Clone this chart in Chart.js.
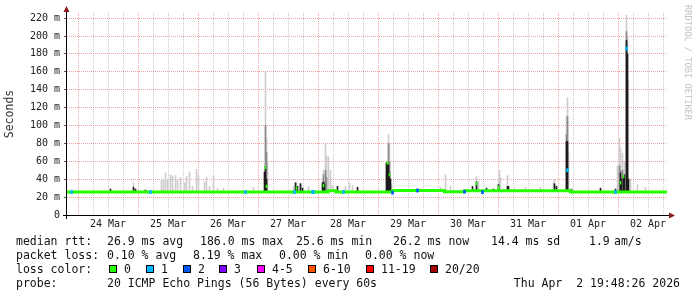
<!DOCTYPE html>
<html>
<head>
<meta charset="utf-8">
<script src="https://cdn.jsdelivr.net/npm/chart.js@4.4.1/dist/chart.umd.min.js"></script>
<style>
  html, body { margin: 0; padding: 0; background: #fff; }
  #wrap { position: relative; width: 697px; height: 297px; overflow: hidden; font-family: 'DejaVu Sans Mono', monospace; color: #111; }
  #chart { position: absolute; left: 0; top: 0; }
  .lg { position: absolute; font-size: 11.5px; line-height: 14px; white-space: pre; }
  .sw { position: absolute; top: 265px; width: 6px; height: 6px; border: 1px solid #000; }
  #wm { position: absolute; left: 683px; top: 5px; writing-mode: vertical-rl; font-size: 8.7px; line-height: 10px; color: #c4c4c4; }
</style>
</head>
<body>
<div id="wrap">
  <canvas id="chart" width="697" height="297"></canvas>

  <span class="lg" style="left:16px;top:234px">median rtt:</span>
  <span class="lg" style="left:107px;top:234px">26.9 ms avg</span>
  <span class="lg" style="left:200px;top:234px">186.0 ms max</span>
  <span class="lg" style="left:296px;top:234px">25.6 ms min</span>
  <span class="lg" style="left:393px;top:234px">26.2 ms now</span>
  <span class="lg" style="left:491px;top:234px">14.4 ms sd</span>
  <span class="lg" style="left:589px;top:234px">1.9</span>
  <span class="lg" style="left:614px;top:234px">am/s</span>

  <span class="lg" style="left:16px;top:248px">packet loss:</span>
  <span class="lg" style="left:107px;top:248px">0.10 % avg</span>
  <span class="lg" style="left:193px;top:248px">8.19 % max</span>
  <span class="lg" style="left:279px;top:248px">0.00 % min</span>
  <span class="lg" style="left:365px;top:248px">0.00 % now</span>

  <span class="lg" style="left:16px;top:262px">loss color:</span>
  <div id="swatches"></div>

  <span class="lg" style="left:16px;top:276px">probe:</span>
  <span class="lg" style="left:107px;top:276px">20 ICMP Echo Pings (56 Bytes) every 60s</span>
  <span class="lg" style="right:17px;top:276px">Thu Apr  2 19:48:26 2026</span>

  <div id="wm">RRDTOOL / TOBI OETIKER</div>
</div>
<script>
'use strict';

// ── AXES (x in hours since 23 Mar 19:48, y in ms) ──
const firstMidnight = 4.4;
const dayLabels = ['24 Mar', '25 Mar', '26 Mar', '27 Mar', '28 Mar', '29 Mar', '30 Mar', '31 Mar', '01 Apr', '02 Apr'];
const yTickValues = [0, 10, 20, 30, 40, 50, 60, 70, 80, 90, 100, 110, 120, 130, 140, 150, 160, 170, 180, 190, 200, 210, 220];
const yLabels = ['0', '20 m', '40 m', '60 m', '80 m', '100 m', '120 m', '140 m', '160 m', '180 m', '200 m', '220 m'];

// ── MEDIAN RTT (step changes) ──
const medianT = [0, 104.4, 107.6, 130.2, 151.0, 159.0, 201.4, 240];
const medianV = [25.7, 27.2, 25.7, 27.3, 26.0, 27.0, 25.7, 25.7];

// ── SMOKE: light / mid / dark columns ──
const lightT = [26.6, 37.8, 38.6, 39.4, 40.2, 41.4, 42.2, 43.4, 44.2, 45.4, 47.0, 47.8, 49.0, 50.2, 51.8, 52.6, 55.0, 55.8, 57.0, 58.6, 60.2, 62.6, 74.6,
  79.4, 79.8, 80.2, 90.6, 91.8, 93.4, 96.6, 102.6, 103.4, 103.8, 104.6, 105.4, 106.2, 111.4, 113.0, 114.2, 127.8, 128.6, 129.0, 129.8,
  149.4, 151.4, 153.4, 163.8, 164.6, 172.6, 173.0, 173.4, 176.2, 179.0, 183.4, 189.4, 194.6, 195.0, 199.8, 200.2, 200.6,
  220.2, 221.0, 221.4, 222.2, 223.0, 223.8, 224.2, 225.4, 228.2, 231.4];
const lightV = [36, 39, 40, 47, 39, 45, 43, 44, 40, 42, 36, 43, 48, 32, 51, 43, 37, 42, 32, 44, 30, 30, 31,
  161, 86, 60, 32, 36, 35, 32, 50, 80, 66, 65, 50, 33, 32, 36, 33, 60, 90, 80, 34,
  31, 45, 32, 43, 38, 40, 50, 42, 44, 30, 31, 31, 37, 40, 110, 131, 70,
  55, 86, 75, 69, 60, 223, 200, 40, 34, 31];

const midT = [79.4, 79.8, 102.6, 103.4, 103.8, 128.6, 129.0, 199.8, 200.2, 221.0, 221.4, 222.2, 223.8, 224.2];
const midV = [100, 70, 45, 50, 42, 80, 60, 90, 110, 55, 50, 50, 205, 150];

const darkT = [17.4, 26.6, 27.4, 31.4, 79.0, 79.4, 79.8, 91.4, 92.2, 93.4, 94.2, 102.2, 102.6, 103.0, 108.2, 116.2,
  127.8, 128.2, 128.6, 129.0, 129.4, 140.2, 162.2, 163.8, 167.8, 170.6, 172.6, 176.2, 176.6, 195.0, 195.8,
  199.8, 200.2, 201.8, 213.4, 219.4, 221.4, 221.8, 222.6, 223.0, 223.8, 224.2, 224.6];
const darkV = [29, 31, 29, 28, 48, 54, 40, 36, 32, 35, 30, 36, 37, 35, 32, 31,
  58, 58, 56, 47, 40, 29, 32, 37, 30, 29, 34, 32, 32, 35, 32,
  82, 82, 29, 30, 29, 47, 40, 43, 45, 195, 180, 40];

// ── MEDIAN MARKS AWAY FROM BASELINE, LOSS MARKS ──
const peakT = [79.4, 79.8, 91.8, 102.6, 128.2, 129.0, 163.8, 172.6, 221.4, 222.6];
const peakV = [53, 32, 30, 33, 58, 45, 35, 31, 36, 43];

const lossT = [1.8, 33.4, 71.4, 91.0, 98.2, 98.6, 110.6, 130.2, 140.2, 159.0, 166.2, 200.2, 219.4, 223.8];
const lossV = [25.7, 25.7, 25.7, 25.7, 25.7, 25.7, 25.7, 25.0, 27.3, 26.0, 25.5, 50, 25.7, 186];
const lossN = [1, 1, 1, 1, 1, 1, 1, 2, 2, 2, 2, 1, 1, 1];

const lossColors = ['#26ff00', '#00b8ff', '#0059ff', '#7e00ff', '#ff00ff', '#ff5500', '#ff0000', '#a00000'];
const lossNames = ['0', '1', '2', '3', '4-5', '6-10', '11-19', '20/20'];

const MONO = "'DejaVu Sans Mono', monospace";
const RED_GRID = 'rgba(225, 90, 90, 0.55)';
const GRAY_GRID = 'rgba(150, 150, 150, 0.5)';

// ── HELPERS ──
const medianAt = (t) => {
  let v = medianV[0];
  medianT.forEach((mt, i) => { if (mt <= t) v = medianV[i]; });
  return v;
};
const smoke = (ts, vs) => ts.map((t, i) => ({ x: t, y: [medianAt(t), vs[i]] }));
const band = (ts, vs, half) => ts.map((t, i) => ({ x: t, y: [vs[i] - half, vs[i] + half] }));

const xTickHours = [];
for (let h = firstMidnight; h < 240; h += 6) xTickHours.push(h);

// ── LEGEND SWATCHES ──
const swatchLeft = [109, 146, 183, 219, 257, 308, 366, 430];
const swBox = document.getElementById('swatches');
lossNames.forEach((name, i) => {
  const sw = document.createElement('span');
  sw.className = 'sw';
  sw.style.left = swatchLeft[i] + 'px';
  sw.style.background = lossColors[i];
  swBox.appendChild(sw);
  const lb = document.createElement('span');
  lb.className = 'lg';
  lb.style.left = (swatchLeft[i] + 15) + 'px';
  lb.style.top = '262px';
  lb.textContent = name;
  swBox.appendChild(lb);
});

// ── AXIS LINES + ARROWS ──
const rrdAxes = {
  id: 'rrdAxes',
  afterDatasetsDraw(chart) {
    const { ctx, chartArea: a } = chart;
    const ax = a.left - 0.5, ay = a.bottom + 0.5;
    ctx.save();
    ctx.strokeStyle = '#000';
    ctx.lineWidth = 1;
    ctx.beginPath();
    ctx.moveTo(a.left - 4, ay); ctx.lineTo(a.right + 3, ay);
    ctx.moveTo(ax, a.bottom + 4); ctx.lineTo(ax, a.top - 2);
    ctx.stroke();
    ctx.fillStyle = '#8b1a1a';
    ctx.beginPath();
    ctx.moveTo(ax, a.top - 7); ctx.lineTo(ax - 3, a.top - 1); ctx.lineTo(ax + 3, a.top - 1); ctx.closePath();
    ctx.moveTo(a.right + 8, ay); ctx.lineTo(a.right + 2, ay - 3); ctx.lineTo(a.right + 2, ay + 3); ctx.closePath();
    ctx.fill();
    ctx.restore();
  },
};

const barBase = { type: 'bar', grouped: false, borderWidth: 0, borderSkipped: false };

new Chart(document.getElementById('chart'), {
  type: 'bar',
  data: {
    datasets: [
      { ...barBase, label: 'loss', order: 0, barThickness: 2, data: band(lossT, lossV, 1.7), backgroundColor: lossN.map(n => lossColors[n]) },
      { ...barBase, label: 'median peaks', order: 0, barThickness: 1, data: band(peakT, peakV, 1.5), backgroundColor: lossColors[0] },
      { type: 'line', label: 'median', order: 1, data: medianT.map((t, i) => ({ x: t, y: medianV[i] })),
        borderColor: lossColors[0], borderWidth: 3, stepped: true, pointRadius: 0, fill: false },
      { ...barBase, label: 'dark', order: 2, barThickness: 1, data: smoke(darkT, darkV), backgroundColor: '#1c1c1c' },
      { ...barBase, label: 'mid', order: 3, barThickness: 1, data: smoke(midT, midV), backgroundColor: '#8c8c8c' },
      { ...barBase, label: 'light', order: 4, barThickness: 1, data: smoke(lightT, lightV), backgroundColor: '#cdcdcd' },
    ],
  },
  options: {
    responsive: false,
    animation: false,
    events: [],
    layout: { padding: { top: 13, right: 30, left: 0, bottom: 0 } },
    plugins: { legend: { display: false }, tooltip: { enabled: false } },
    scales: {
      x: {
        type: 'linear', min: 0, max: 240, offset: false,
        afterBuildTicks: (s) => { s.ticks = xTickHours.map(v => ({ value: v })); },
        afterFit: (s) => { s.height = 82; },
        grid: { offset: false, drawTicks: false, lineWidth: 1, color: (c) => (c.index % 4 === 0 ? RED_GRID : GRAY_GRID) },
        border: { display: false, dash: [1, 1] },
        ticks: {
          autoSkip: false, maxRotation: 0, padding: 3, color: '#222',
          font: { family: MONO, size: 10 },
          callback: (v, i) => (i % 4 === 2 ? dayLabels[(i - 2) / 4] : ''),
        },
      },
      y: {
        min: 0, max: 225.7,
        afterBuildTicks: (s) => { s.ticks = yTickValues.map(v => ({ value: v })); },
        afterFit: (s) => { s.width = 67; },
        grid: { lineWidth: 1, tickLength: 3, tickColor: '#555', color: (c) => (c.tick && c.tick.value % 20 === 0 ? RED_GRID : GRAY_GRID) },
        border: { display: false, dash: [1, 1] },
        ticks: {
          padding: 4, color: '#222',
          font: { family: MONO, size: 10 },
          callback: (v) => (v % 20 === 0 ? yLabels[v / 20] : ''),
        },
        title: { display: true, text: 'Seconds', color: '#333', font: { family: MONO, size: 11.5 }, padding: { top: 3, bottom: 0 } },
      },
    },
  },
  plugins: [rrdAxes],
});
</script>
</body>
</html>
